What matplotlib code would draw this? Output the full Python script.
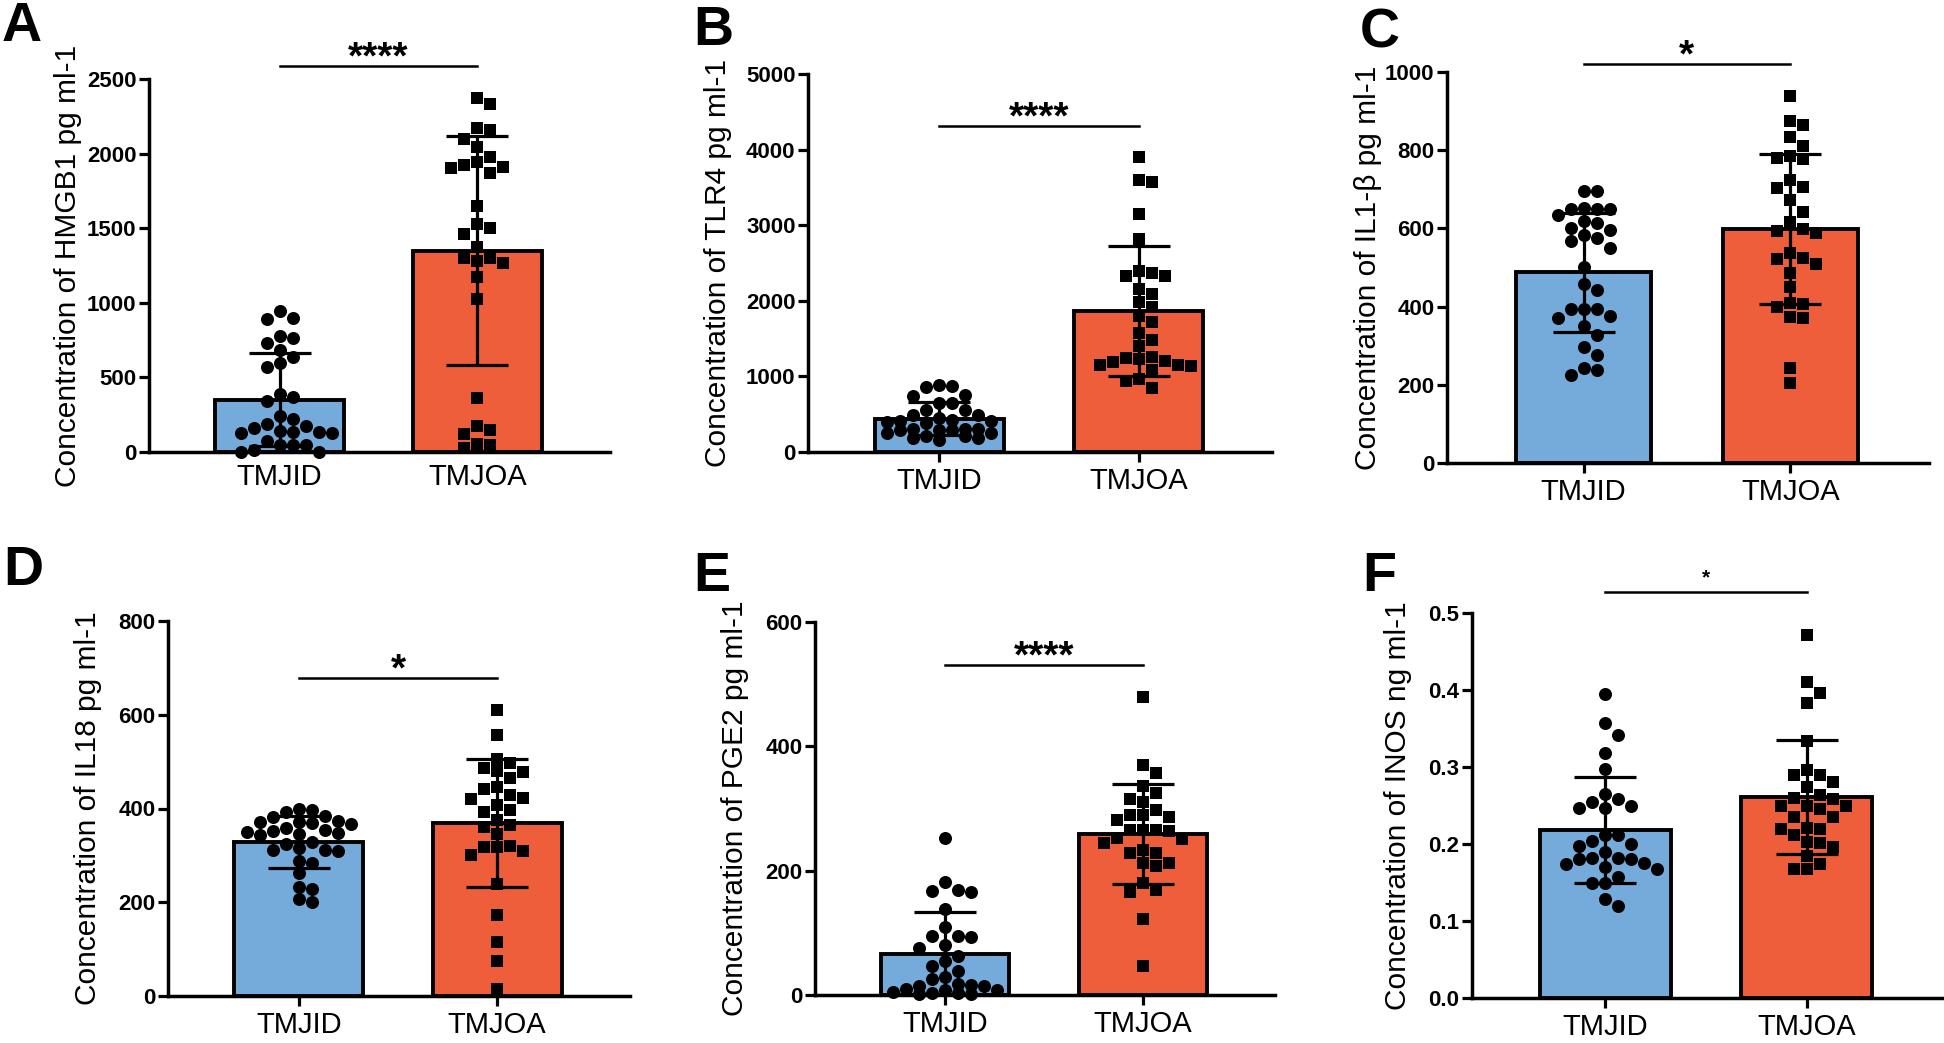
"""Cytokine concentrations, TMJID vs TMJOA, six bar + scatter panels."""

import matplotlib

matplotlib.use("Agg")
import matplotlib.pyplot as plt
import numpy as np

W, H = 1944, 1043

BLUE = "#74ABDB"
ORANGE = "#EE5E3A"
TICK_FONT = ["Liberation Sans Narrow", "Liberation Sans", "DejaVu Sans"]
TEXT_FONT = ["Liberation Sans", "DejaVu Sans"]

groups = ["TMJID", "TMJOA"]

# values, one list per group
hmgb1_tmjid = [946, 897, 890, 763, 779, 730, 685, 640, 596, 567, 366, 388, 344, 243, 221,
               188, 176, 161, 132, 130, 143, 134, 128, 16, 49, 71, 0, 49, 0, 45]
hmgb1_tmjoa = [2375, 2333, 2158, 2170, 2096, 2047, 1980, 1946, 1902, 1924, 1913, 1868, 1652,
               1527, 1500, 1460, 1377, 1299, 1266, 1277, 1299, 1170, 1027, 362, 121, 145,
               172, 27, 49, 54]

tlr4_tmjid = [877, 859, 890, 758, 744, 652, 645, 562, 556, 493, 490, 449, 427, 408, 383,
              402, 405, 292, 298, 301, 304, 288, 295, 251, 248, 207, 210, 154, 185, 182]
tlr4_tmjoa = [3899, 3599, 3577, 3150, 2819, 2388, 2374, 2322, 2330, 2154, 2093, 1978, 1916,
              1793, 1714, 1573, 1476, 1396, 1141, 1198, 1242, 1154, 1150, 1190, 1229, 1251,
              1079, 965, 943, 846]

il1b_tmjid = [696, 696, 649, 652, 649, 649, 635, 615, 602, 619, 596, 582, 575, 568, 551,
              502, 457, 442, 395, 393, 395, 370, 376, 350, 327, 297, 276, 243, 239, 225]
il1b_tmjoa = [938, 874, 865, 835, 811, 780, 777, 784, 724, 703, 707, 673, 643, 617, 588,
              598, 593, 521, 536, 508, 525, 485, 451, 400, 410, 406, 371, 374, 244, 205]

il18_tmjid = [398, 396, 393, 383, 382, 369, 373, 371, 371, 368, 355, 353, 350, 348, 359,
              343, 329, 324, 309, 316, 312, 312, 284, 289, 262, 229, 233, 201, 206, 346]
il18_tmjoa = [611, 556, 506, 497, 477, 486, 479, 465, 442, 445, 428, 422, 421, 407, 396,
              393, 375, 364, 361, 346, 317, 321, 309, 318, 300, 240, 172, 115, 75, 16]

pge2_tmjid = [253, 182, 168, 169, 166, 138, 110, 95, 93, 95, 81, 75, 63, 55, 47, 39, 25,
              29, 17, 15, 16, 15, 5, 1, 4, 8, 1, 8, 10, 3]
pge2_tmjoa = [480, 370, 357, 336, 325, 316, 311, 287, 298, 281, 289, 289, 265, 264, 265,
              265, 251, 253, 245, 234, 229, 229, 207, 212, 212, 180, 169, 165, 122, 47]

inos_tmjid = [0.395, 0.357, 0.341, 0.318, 0.297, 0.265, 0.255, 0.258, 0.247, 0.250, 0.247,
              0.212, 0.212, 0.204, 0.200, 0.197, 0.189, 0.182, 0.180, 0.182, 0.180, 0.175,
              0.174, 0.170, 0.167, 0.157, 0.150, 0.149, 0.128, 0.119]
inos_tmjoa = [0.472, 0.410, 0.396, 0.383, 0.334, 0.289, 0.289, 0.296, 0.281, 0.274, 0.264,
              0.260, 0.258, 0.250, 0.250, 0.250, 0.245, 0.235, 0.235, 0.219, 0.221, 0.219,
              0.212, 0.203, 0.201, 0.196, 0.184, 0.174, 0.167, 0.167]

y_labels = [
    "Concentration of HMGB1 pg ml-1",
    "Concentration of TLR4 pg ml-1",
    "Concentration of IL1-\u03b2 pg ml-1",
    "Concentration of IL18 pg ml-1",
    "Concentration of PGE2 pg ml-1",
    "Concentration of INOS ng ml-1",
]
y_ticks = [
    [0, 500, 1000, 1500, 2000, 2500],
    [0, 1000, 2000, 3000, 4000, 5000],
    [0, 200, 400, 600, 800, 1000],
    [0, 200, 400, 600, 800],
    [0, 200, 400, 600],
    [0.0, 0.1, 0.2, 0.3, 0.4, 0.5],
]
significance = ["****", "****", "*", "*", "****", "*"]
sig_heights = [2589, 4317, 1021, 679, 531, 0.527]

# panel layout in pixels: letter, (left, right, top, bottom), ylabel x, letter pos
PANELS = [
    ("A", hmgb1_tmjid, hmgb1_tmjoa, (149, 610, 79, 452), 82, (2, 1)),
    ("B", tlr4_tmjid, tlr4_tmjoa, (808, 1272, 74, 452), 732, (693, 5)),
    ("C", il1b_tmjid, il1b_tmjoa, (1447, 1929, 72, 463), 1382, (1360, 8)),
    ("D", il18_tmjid, il18_tmjoa, (168, 630, 621, 996), 102, (3, 545)),
    ("E", pge2_tmjid, pge2_tmjoa, (815, 1275, 622, 995), 749, (693, 551)),
    ("F", inos_tmjid, inos_tmjoa, (1472, 1942, 613, 998), 1412, (1362, 551)),
]


def swarm_x(ax, center, values, step_px, min_dist_px, max_px):
    """Spread points sideways so markers overlap little (pixel space)."""
    values = np.asarray(values, dtype=float)
    trans = ax.transData
    x0 = trans.transform((center, 0))[0]
    px_per_unit = trans.transform((center + 1, 0))[0] - x0
    ys = trans.transform(np.column_stack([np.full(len(values), center), values]))[:, 1]
    candidates = [0.0]
    k = 1
    while k * step_px <= max_px:
        candidates += [k * step_px, -k * step_px]
        k += 1
    placed = []
    offsets = np.zeros(len(values))
    for i in np.argsort(-values):
        best, best_gap = candidates[0], -1.0
        for c in candidates:
            gap = min([np.hypot(c - px, ys[i] - py) for px, py in placed] or [1e9])
            if gap >= min_dist_px:
                best = c
                break
            if gap > best_gap:
                best, best_gap = c, gap
        placed.append((best, ys[i]))
        offsets[i] = best
    return center + offsets / px_per_unit


fig = plt.figure(figsize=(W / 100, H / 100), dpi=100)

for idx, (letter, g1, g2, box, ylab_x, letter_pos) in enumerate(PANELS):
    left, right, top, bottom = box
    ax = fig.add_axes([left / W, 1 - bottom / H, (right - left) / W, (bottom - top) / H])
    ticks = y_ticks[idx]
    ax.set_xlim(-0.66, 1.67)
    ax.set_ylim(0, ticks[-1])

    means = [np.mean(g1), np.mean(g2)]
    sds = [np.std(g1, ddof=1), np.std(g2, ddof=1)]
    ax.bar([0, 1], means, width=0.65, color=[BLUE, ORANGE], edgecolor="black",
           linewidth=2.8, zorder=2)
    ax.errorbar([0, 1], means, yerr=sds, fmt="none", ecolor="black", elinewidth=2.3,
                capsize=22, capthick=2.3, zorder=3)

    for pos, vals, marker, size in ((0, g1, "o", 88), (1, g2, "s", 72)):
        xs = swarm_x(ax, pos, vals, step_px=13.0, min_dist_px=12.5, max_px=62)
        ax.scatter(xs, vals, marker=marker, s=size, color="black", linewidths=0,
                   zorder=4, clip_on=False)

    # significance bracket
    ax.plot([0, 1], [sig_heights[idx]] * 2, color="black", lw=1.8, clip_on=False, zorder=5)
    small = letter == "F"
    ax.annotate(significance[idx], xy=(0.5, sig_heights[idx]),
                xytext=(0, 6 if small else -2), textcoords="offset points",
                ha="center", va="baseline", fontsize=15 if small else 28,
                fontweight="bold", family=TEXT_FONT, annotation_clip=False)

    for side in ("top", "right"):
        ax.spines[side].set_visible(False)
    for side in ("left", "bottom"):
        ax.spines[side].set_linewidth(2.5)

    ax.set_yticks(ticks)
    if letter == "F":
        ax.set_yticklabels([f"{t:.1f}" for t in ticks])
    else:
        ax.set_yticklabels([str(t) for t in ticks])
    for lab in ax.get_yticklabels():
        lab.set_fontfamily(TICK_FONT)
        lab.set_fontweight("bold")
        lab.set_fontsize(16)
    ax.tick_params(axis="y", length=7, width=2.3, pad=2)

    ax.set_xticks([0, 1])
    ax.set_xticklabels(groups, fontsize=21, family=TEXT_FONT)
    if letter == "A":
        ax.tick_params(axis="x", length=0, width=2.3, pad=8)
    else:
        ax.tick_params(axis="x", length=7, width=2.3, pad=4)

    ax.set_ylabel(y_labels[idx], fontsize=21.5, family=TEXT_FONT)
    ax.yaxis.set_label_coords((ylab_x - left) / (right - left), 0.5)

    fig.text(letter_pos[0] / W, 1 - letter_pos[1] / H, letter, fontsize=40,
             fontweight="bold", family=TEXT_FONT, ha="left", va="top")

fig.savefig("out.png", dpi=100)
